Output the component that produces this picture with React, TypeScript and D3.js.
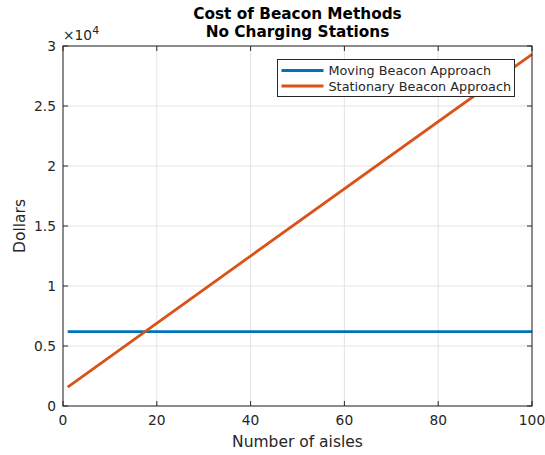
import React from "react";
import * as d3 from "d3";

// Number of aisles at each end of the modelled range
const aisles = [1, 100];
// Cost (dollars) of the moving-beacon approach: flat regardless of aisle count
const movingCost = [6200, 6200];
// Cost (dollars) of the stationary-beacon approach: grows with aisle count
const stationaryCost = [1580, 29300];

const xTicks = [0, 20, 40, 60, 80, 100];
const yTicks = [0, 5000, 10000, 15000, 20000, 25000, 30000];
const yTickLabels = ["0", "0.5", "1", "1.5", "2", "2.5", "3"];

const seriesNames = ["Moving Beacon Approach", "Stationary Beacon Approach"];
const seriesColors = ["#0072BD", "#D95319"];

const W = 545;
const H = 455;
const margin = { left: 63, right: 13, top: 46, bottom: 49 };
const FONT = "'DejaVu Sans', sans-serif";
const AXIS = "#262626";

export default function App() {
  const x = d3
    .scaleLinear()
    .domain([0, 100])
    .range([margin.left, W - margin.right]);
  const y = d3
    .scaleLinear()
    .domain([0, 30000])
    .range([H - margin.bottom, margin.top]);

  const line = d3
    .line<[number, number]>()
    .x((d) => x(d[0]))
    .y((d) => y(d[1]));

  const series = [movingCost, stationaryCost].map((vals) =>
    aisles.map((a, i) => [a, vals[i]] as [number, number])
  );

  const [x0, x1] = x.range();
  const [y0, y1] = y.range();
  const tickLen = 5;

  const legend = { x: 277.5, y: 59.5, w: 237, h: 37 };

  return (
    <svg
      width={W}
      height={H}
      style={{ position: "absolute", left: 0, top: 0, background: "#fff" }}
      fontFamily={FONT}
    >
      <rect x={0} y={0} width={W} height={H} fill="#fff" />
      {/* grid */}
      <g stroke="#e3e3e3" strokeWidth={1}>
        {xTicks.map((t) => (
          <line key={"gx" + t} x1={x(t)} x2={x(t)} y1={y0} y2={y1} />
        ))}
        {yTicks.map((t) => (
          <line key={"gy" + t} x1={x0} x2={x1} y1={y(t)} y2={y(t)} />
        ))}
      </g>

      {/* data lines */}
      {series.map((s, i) => (
        <path
          key={i}
          d={line(s) || ""}
          fill="none"
          stroke={seriesColors[i]}
          strokeWidth={2.8}
        />
      ))}

      {/* axes box and ticks */}
      <rect
        x={x0}
        y={y1}
        width={x1 - x0}
        height={y0 - y1}
        fill="none"
        stroke={AXIS}
        strokeWidth={1}
      />
      <g stroke={AXIS} strokeWidth={1}>
        {xTicks.map((t) => (
          <g key={"tx" + t}>
            <line x1={x(t)} x2={x(t)} y1={y0} y2={y0 - tickLen} />
            <line x1={x(t)} x2={x(t)} y1={y1} y2={y1 + tickLen} />
          </g>
        ))}
        {yTicks.map((t) => (
          <g key={"ty" + t}>
            <line x1={x0} x2={x0 + tickLen} y1={y(t)} y2={y(t)} />
            <line x1={x1} x2={x1 - tickLen} y1={y(t)} y2={y(t)} />
          </g>
        ))}
      </g>

      {/* tick labels */}
      <g fill={AXIS} fontSize={13.8}>
        {xTicks.map((t) => (
          <text key={"lx" + t} x={x(t)} y={y0 + 19} textAnchor="middle">
            {t}
          </text>
        ))}
        {yTicks.map((t, i) => (
          <text key={"ly" + t} x={x0 - 7} y={y(t) + 5} textAnchor="end">
            {yTickLabels[i]}
          </text>
        ))}
      </g>

      {/* exponent */}
      <text x={x0} y={y1 - 6} fill={AXIS} fontSize={13.8}>
        ×10
        <tspan dy={-6} fontSize={11}>
          4
        </tspan>
      </text>

      {/* axis labels */}
      <text
        x={(x0 + x1) / 2}
        y={H - 8}
        textAnchor="middle"
        fontSize={15.5}
        fill={AXIS}
      >
        Number of aisles
      </text>
      <text
        transform={`translate(25,${(y0 + y1) / 2}) rotate(-90)`}
        textAnchor="middle"
        fontSize={15.5}
        fill={AXIS}
      >
        Dollars
      </text>

      {/* title */}
      <g fontSize={15.3} fontWeight="bold" fill="#000" textAnchor="middle">
        <text x={(x0 + x1) / 2} y={19}>
          Cost of Beacon Methods
        </text>
        <text x={(x0 + x1) / 2} y={37}>
          No Charging Stations
        </text>
      </g>

      {/* legend */}
      <g>
        <rect
          x={legend.x}
          y={legend.y}
          width={legend.w}
          height={legend.h}
          fill="#fff"
          stroke={AXIS}
          strokeWidth={1}
        />
        {seriesNames.map((name, i) => {
          const ry = legend.y + 11 + i * 15.5;
          return (
            <g key={name}>
              <line
                x1={legend.x + 4}
                x2={legend.x + 46}
                y1={ry}
                y2={ry}
                stroke={seriesColors[i]}
                strokeWidth={2.8}
              />
              <text x={legend.x + 51} y={ry + 4.5} fontSize={12.8} fill={AXIS}>
                {name}
              </text>
            </g>
          );
        })}
      </g>
    </svg>
  );
}
